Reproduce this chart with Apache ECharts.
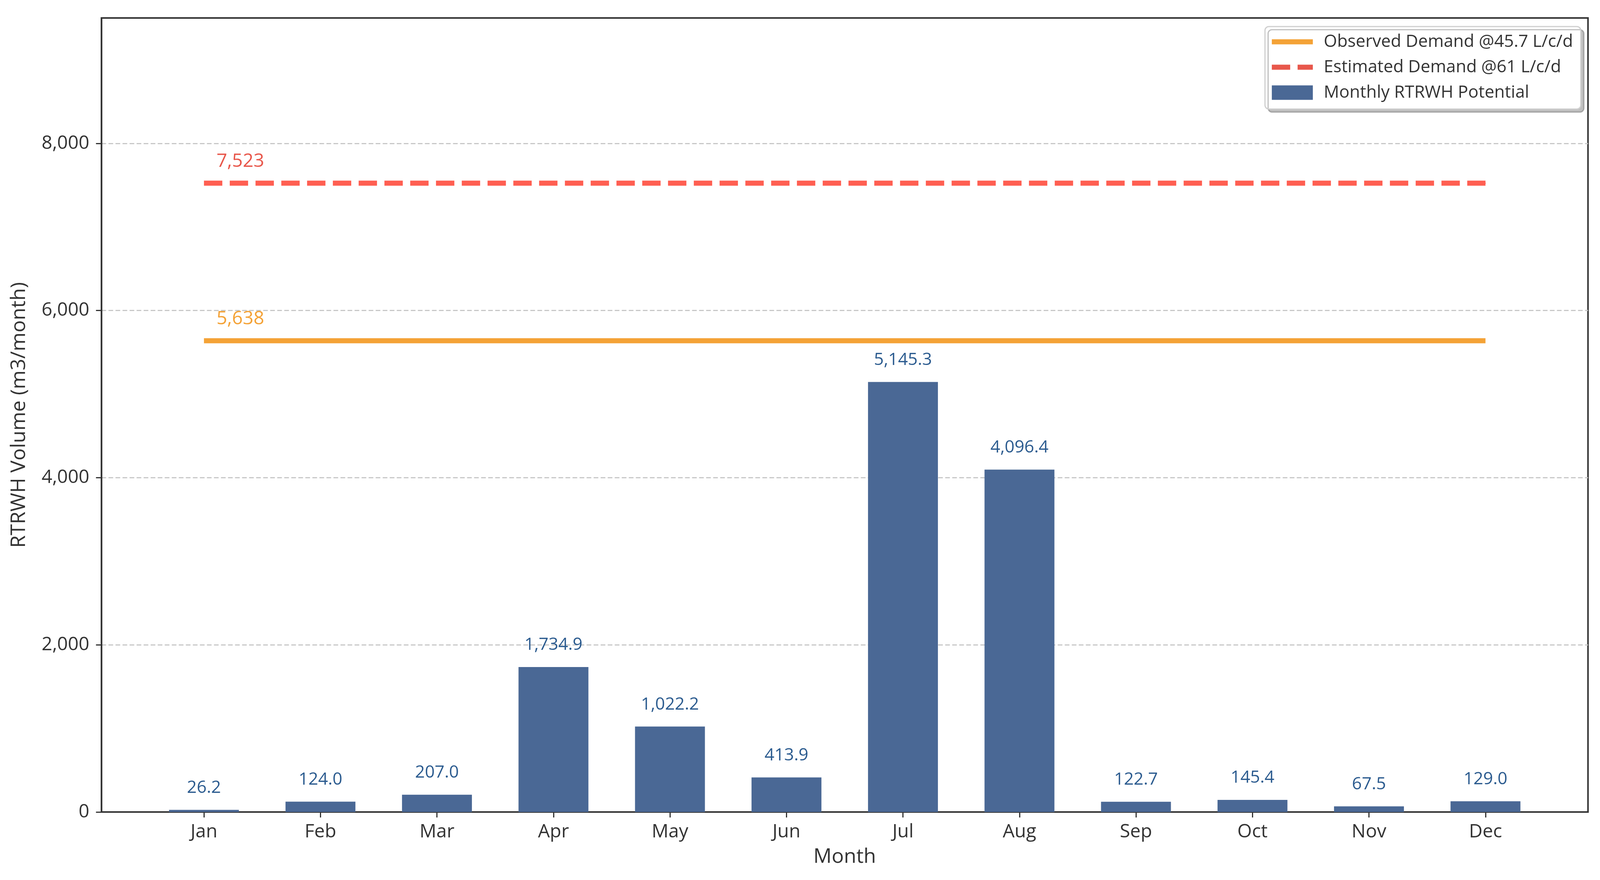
<!DOCTYPE html>
<html>
<head>
<meta charset="utf-8">
<script src="https://cdn.jsdelivr.net/npm/echarts@6/dist/echarts.min.js"></script>
<style>
  html, body { margin: 0; padding: 0; background: #fff; overflow: hidden; }
  #chart { width: 100vw; height: 100vh; }
</style>
</head>
<body>
<div id="chart"></div>
<script>
var months = ['Jan', 'Feb', 'Mar', 'Apr', 'May', 'Jun', 'Jul', 'Aug', 'Sep', 'Oct', 'Nov', 'Dec']
var potential = [26.2, 124.0, 207.0, 1734.9, 1022.2, 413.9, 5145.3, 4096.4, 122.7, 145.4, 67.5, 129.0]
var observedDemand = 5638
var estimatedDemand = 7523
var yTicks = [0, 2000, 4000, 6000, 8000]
var names = {
  observed: 'Observed Demand @45.7 L/c/d',
  estimated: 'Estimated Demand @61 L/c/d',
  potential: 'Monthly RTRWH Potential'
}

var FONT = 'Open Sans'
var monthIdx = months.map(function (m, i) { return i })

function fmt (v, digits) {
  return v.toLocaleString('en-US', { minimumFractionDigits: digits, maximumFractionDigits: digits })
}

// flat line across the months, label only on the first point
function demandLine (value, color) {
  return [
    {
      value: [0, value],
      symbol: 'circle',
      symbolSize: 0,
      label: {
        show: true,
        position: [32, -56],
        align: 'left',
        verticalAlign: 'middle',
        color: color,
        fontSize: 48,
        fontFamily: FONT,
        formatter: function () { return fmt(value, 0) }
      }
    },
    [months.length - 1, value]
  ]
}

var chart = echarts.init(document.getElementById('chart'), null, { renderer: 'canvas' })

chart.setOption({
  animation: false,
  backgroundColor: '#fff',
  textStyle: { fontFamily: FONT, color: '#333' },
  grid: {
    left: '6.34%', right: '0.75%', top: 46, bottom: 174,
    show: true, borderColor: '#333', borderWidth: 4,
    outerBoundsMode: 'none'
  },
  legend: {
    orient: 'vertical',
    right: '1.2%',
    top: 68,
    padding: [17, 20, 20, 11],
    itemWidth: 105,
    itemHeight: 37,
    itemGap: 21,
    backgroundColor: '#fff',
    borderColor: '#cfcfcf',
    borderWidth: 3,
    borderRadius: 10,
    shadowColor: 'rgba(0,0,0,0.25)',
    shadowBlur: 0,
    shadowOffsetX: 8,
    shadowOffsetY: 8,
    textStyle: { fontSize: 44, color: '#333', fontFamily: FONT },
    formatter: function (name) { return '  ' + name },
    lineStyle: { width: 'inherit' },
    data: [
      { name: names.observed, itemStyle: { opacity: 0 } },
      { name: names.estimated, itemStyle: { opacity: 0 } },
      { name: names.potential, icon: 'rect' }
    ]
  },
  xAxis: {
    type: 'value',
    min: -0.88,
    max: 11.88,
    name: 'Month',
    nameLocation: 'middle',
    nameGap: 89,
    nameMoveOverlap: false,
    nameTextStyle: { fontSize: 52, color: '#333', fontFamily: FONT },
    axisLine: { show: true, onZero: false, lineStyle: { color: '#333', width: 4 } },
    axisTick: { show: true, length: 14, lineStyle: { color: '#333', width: 3 }, customValues: monthIdx },
    axisLabel: {
      show: true, margin: 27, fontSize: 48, color: '#333', fontFamily: FONT,
      customValues: monthIdx,
      formatter: function (v) { return months[Math.round(v)] }
    },
    splitLine: { show: false }
  },
  yAxis: {
    type: 'value',
    min: 0,
    max: 9500,
    interval: 2000,
    name: 'RTRWH Volume (m3/month)',
    nameLocation: 'middle',
    nameGap: 184,
    nameMoveOverlap: false,
    nameTextStyle: { fontSize: 52, color: '#333', fontFamily: FONT },
    axisLine: { show: true, onZero: false, lineStyle: { color: '#333', width: 4 } },
    axisTick: { show: true, length: 14, lineStyle: { color: '#333', width: 3 }, customValues: yTicks },
    axisLabel: {
      show: true, margin: 31, fontSize: 48, color: '#333', fontFamily: FONT,
      customValues: yTicks,
      formatter: function (v) { return fmt(v, 0) }
    },
    splitLine: { show: true, lineStyle: { color: '#c8c8c8', width: 3, type: [12, 6] } }
  },
  series: [
    {
      name: names.observed,
      type: 'line',
      data: demandLine(observedDemand, '#F4A236'),
      symbol: 'circle',
      symbolSize: 0,
      itemStyle: { color: '#F4A236' },
      lineStyle: { color: '#F4A236', width: 13 },
      label: { show: false },
      z: 3
    },
    {
      name: names.estimated,
      type: 'line',
      data: demandLine(estimatedDemand, '#E8574B'),
      symbol: 'circle',
      symbolSize: 0,
      itemStyle: { color: '#E8574B' },
      lineStyle: { color: '#E8574B', width: 13, type: [47, 19] },
      label: { show: false },
      z: 3
    },
    {
      name: names.potential,
      type: 'bar',
      data: potential.map(function (v, i) { return [i, v] }),
      barWidth: '60%',
      itemStyle: { color: '#4A6895' },
      label: {
        show: true,
        position: 'top',
        distance: 34,
        fontSize: 44,
        color: '#2B5B8F',
        fontFamily: FONT,
        formatter: function (p) { return fmt(p.value[1], 1) }
      },
      z: 2
    }
  ]
})
</script>
</body>
</html>
